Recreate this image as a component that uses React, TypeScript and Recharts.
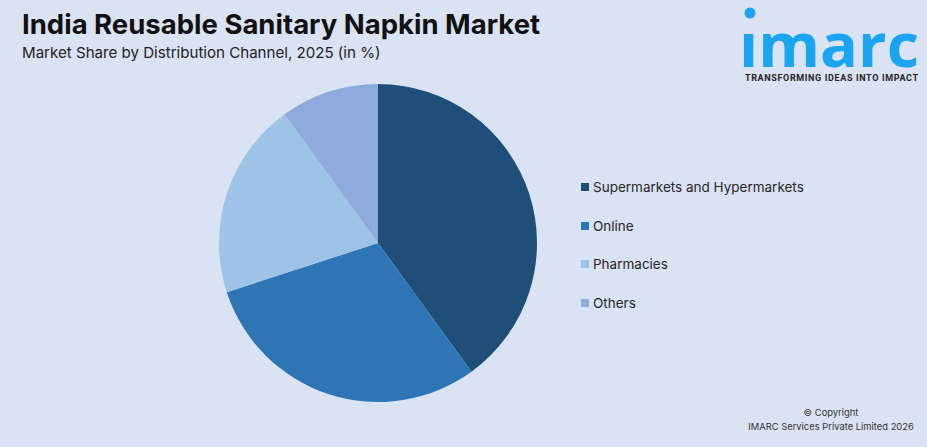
import { PieChart, Pie, Cell, Legend } from "recharts";

const canales = ["Supermarkets and Hypermarkets", "Online", "Pharmacies", "Others"];
const cuotas = [40, 30, 20, 10];
const colores = ["#1f4e79", "#2e75b6", "#9dc3e6", "#8faadc"];

const datos = canales.map((name, i) => ({ name, value: cuotas[i] }));

const FUENTE = "Inter, 'Noto Sans', sans-serif";

function Leyenda() {
  return (
    <div style={{ fontFamily: FUENTE, fontSize: 13.5, color: "#262626" }}>
      {canales.map((c, i) => (
        <div
          key={c}
          style={{ position: "absolute", left: 0, top: i * 38.7, height: 20, display: "flex", alignItems: "center", whiteSpace: "nowrap" }}
        >
          <span style={{ width: 8, height: 8, marginRight: 4, backgroundColor: colores[i] }} />
          {c}
        </div>
      ))}
    </div>
  );
}

function Logo() {
  return (
    <svg width={190} height={90} style={{ position: "absolute", left: 737, top: 0 }}>
      <circle cx={13} cy={13} r={5.5} fill="#1ba4ef" />
      <text x={2} y={67} fontFamily="'Open Sans', sans-serif" fontWeight={700} fontSize={60} fill="#1ba4ef" textLength={180} lengthAdjust="spacingAndGlyphs">
        ımarc
      </text>
      <text x={8} y={81} fontFamily="Roboto, sans-serif" fontWeight={700} fontSize={9} fill="#222" textLength={173}>
        TRANSFORMING IDEAS INTO IMPACT
      </text>
    </svg>
  );
}

export default function App() {
  return (
    <div style={{ position: "absolute", left: 0, top: 0, width: 927, height: 447, overflow: "hidden", backgroundColor: "#dae3f3" }}>
      <div style={{ position: "absolute", left: 22, top: 7, fontFamily: FUENTE, fontWeight: 700, fontSize: 27.5, color: "#111", whiteSpace: "nowrap" }}>
        India Reusable Sanitary Napkin Market
      </div>
      <div style={{ position: "absolute", left: 22, top: 43, fontFamily: FUENTE, fontSize: 15.1, color: "#222", whiteSpace: "nowrap" }}>
        Market Share by Distribution Channel, 2025 (in %)
      </div>
      <PieChart width={927} height={447} margin={{ top: 0, right: 0, bottom: 0, left: 0 }} style={{ position: "absolute", left: 0, top: 0 }}>
        <Pie
          data={datos}
          dataKey="value"
          nameKey="name"
          cx={378}
          cy={243}
          outerRadius={159}
          startAngle={90}
          endAngle={-270}
          stroke="none"
          isAnimationActive={false}
        >
          {datos.map((d, i) => (
            <Cell key={d.name} fill={colores[i]} />
          ))}
        </Pie>
        <Legend
          content={<Leyenda />}
          wrapperStyle={{ position: "absolute", left: 581, top: 177, width: 300, height: 140 }}
        />
      </PieChart>
      <Logo />
      <div style={{ position: "absolute", left: 736, top: 406, width: 190, textAlign: "center", fontFamily: FUENTE, fontSize: 9.4, lineHeight: "14px", color: "#333", whiteSpace: "nowrap" }}>
        © Copyright
        <br />
        IMARC Services Private Limited 2026
      </div>
    </div>
  );
}
